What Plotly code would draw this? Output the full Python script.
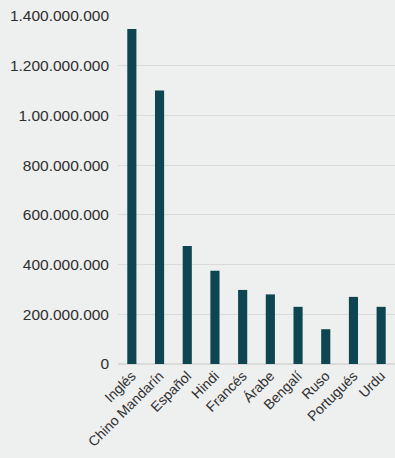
import plotly.graph_objects as go

idiomas = ["Inglés", "Chino Mandarín", "Español", "Hindi", "Francés", "Árabe",
           "Bengalí", "Ruso", "Portugués", "Urdu"]
hablantes = [1348000000, 1100000000, 475000000, 375000000, 298000000, 280000000,
             230000000, 140000000, 270000000, 230000000]
tick_vals = [0, 200000000, 400000000, 600000000, 800000000, 1000000000, 1200000000, 1400000000]
tick_text = ["0", "200.000.000", "400.000.000", "600.000.000", "800.000.000",
             "1.00.000.000", "1.200.000.000", "1.400.000.000"]

fig = go.Figure(go.Bar(x=idiomas, y=hablantes, marker_color="#0d4650",
                       marker_line_width=0, width=0.33))
fig.update_layout(
    width=395, height=458,
    margin=dict(l=118, r=0, t=16, b=94),
    paper_bgcolor="#eeefef", plot_bgcolor="#eeefef",
    font=dict(family="Liberation Sans, Arial, sans-serif", color="#2e2e2e"),
    showlegend=False,
)
fig.update_yaxes(range=[0, 1400000000], tickvals=tick_vals, ticktext=tick_text,
                 tickfont=dict(size=15.5), showgrid=True, gridcolor="#dcd9d9",
                 gridwidth=1, zeroline=True, zerolinecolor="#dcd9d9",
                 ticks="", ticklabelstandoff=8)
fig.update_xaxes(tickangle=-45, tickfont=dict(size=14), showgrid=False, ticks="",
                 showline=False)
fig.write_html("out.html", config={"displayModeBar": False},
               post_script="document.body.style.margin='0';document.body.style.overflow='hidden';")
